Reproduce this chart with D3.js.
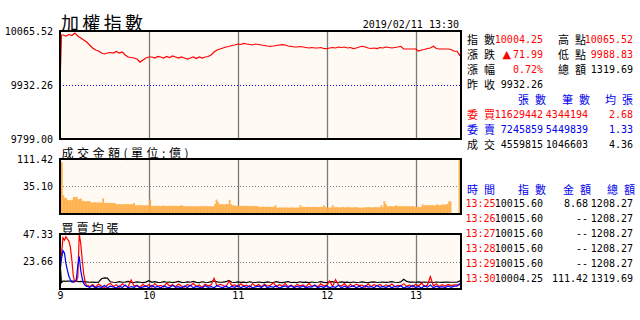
<!DOCTYPE html>
<html>
<head>
<meta charset="utf-8">
<script src="https://cdn.jsdelivr.net/npm/d3@7"></script>
<style>
body { margin: 0; background: #fff; }
svg { display: block; }
</style>
</head>
<body>
<script>
// minutes after 09:00, index closes
var prevClose = 9932.26;
var idxRange = [9799.00, 10065.52];
var idxTicks = [9799.00, 9932.26, 10065.52];
var idxMinutes = [0, 1].concat(d3.range(2, 271, 2));
var idxValues = [
  9932.26, 10055.6,
  10055.6, 10053.2, 10056.8, 10054.4, 10060.2, 10053.2, 10048.2, 10043.3, 10038.4, 10031.0,
  10023.6, 10018.6, 10016.2, 10011.2, 10008.8, 10011.2, 10012.5, 10011.2, 10014.9, 10011.2,
  10013.7, 10006.3, 10001.4, 10000.1, 9998.9, 9996.4, 9988.8, 9994.0, 9998.9, 10001.4,
  10001.4, 9998.9, 10002.6, 10001.4, 9998.9, 10002.6, 10000.1, 10003.8, 10001.4, 9998.9,
  10001.4, 9998.9, 9996.4, 9998.9, 10001.4, 9997.6, 10001.4, 9998.9, 10001.4, 10002.6,
  10006.3, 10013.7, 10018.6, 10021.1, 10023.6, 10026.0, 10027.3, 10029.7, 10031.0, 10033.4,
  10032.2, 10034.7, 10033.4, 10032.2, 10031.0, 10033.4, 10032.2, 10031.0, 10029.7, 10028.5,
  10027.8, 10028.5, 10029.8, 10031.0, 10031.7, 10031.0, 10028.5, 10027.8, 10026.0, 10026.0,
  10027.3, 10026.0, 10024.8, 10023.6, 10024.8, 10023.6, 10023.6, 10024.8, 10022.3, 10021.8,
  10023.6, 10024.8, 10023.6, 10026.0, 10024.8, 10026.0, 10023.6, 10024.8, 10022.3, 10023.6,
  10026.0, 10027.8, 10026.0, 10023.6, 10022.3, 10023.6, 10022.3, 10024.8, 10023.6, 10026.0,
  10024.8, 10023.6, 10024.8, 10026.0, 10027.8, 10021.1, 10021.1, 10021.1, 10021.1, 10021.1,
  10016.2, 10018.6, 10019.9, 10022.3, 10023.6, 10027.8, 10022.3, 10021.1, 10021.1, 10021.1,
  10021.1, 10019.9, 10015.6, 10015.6, 10004.25
];

// traded amount per minute (億), 09:00 .. 13:30
var volRange = [0, 111.42];
var volTicks = [35.10, 111.42];
var volValues = [
  101.0, 18.7, 14.5, 14.0,
  11.2, 10.8, 11.5, 11.0,
  16.0, 15.5, 16.2,
  13.0, 12.5, 13.5,
  9.8, 10.2, 9.5, 9.8, 10.0, 9.6,
  8.3, 8.0, 8.5, 8.3, 8.1, 8.4, 8.2, 8.0,
  13.6,
  7.7, 7.5, 7.9, 7.6, 7.8, 7.4, 7.7, 7.5,
  6.3, 6.0, 6.5, 6.2, 6.4, 6.1, 6.3, 6.6, 6.2, 6.0, 6.4, 6.3,
  7.7,
  5.2, 5.0, 5.4, 5.1, 5.3, 5.2, 5.0, 5.3, 5.1, 5.2,
  12.2,
  4.6, 4.4, 4.8, 4.5, 4.7, 4.6, 4.3, 4.6, 4.9, 4.5, 4.6, 4.4, 4.7, 4.6, 4.5, 4.8, 4.6, 4.4, 4.6, 4.5,
  5.2, 5.0,
  4.3, 4.1, 4.4, 4.2, 4.3, 4.5, 4.2, 4.3, 4.1, 4.4, 4.3, 4.2, 4.6, 4.3, 4.2, 4.4, 4.3, 4.1, 4.3, 4.4, 4.2,
  6.5, 12.0, 9.0,
  6.3, 6.0, 6.4, 6.2, 6.1, 6.5, 6.3,
  11.2, 6.0,
  5.2, 5.0, 4.8, 4.6, 4.7, 4.5, 4.6, 4.4, 4.7, 4.6, 4.5, 4.3, 4.6, 4.5, 4.4, 4.6, 4.2, 4.4,
  3.7, 3.6, 3.8, 4.0, 3.6, 3.7, 3.9, 3.6, 3.7, 3.5, 3.8,
  5.2,
  3.1, 3.0, 3.2, 3.1, 3.3, 3.0, 3.1, 3.2, 3.0, 3.1, 3.3, 3.1, 3.0, 3.2, 3.1, 3.0,
  5.2,
  3.6, 3.7, 3.5, 3.8, 3.6, 3.7, 3.6, 3.5, 3.8, 3.6, 3.7, 3.6, 3.5, 3.7, 3.6,
  5.2,
  3.8, 3.0, 3.1, 3.0, 3.2,
  5.2,
  3.4, 3.3, 3.5, 3.2, 3.4, 3.3, 3.6, 3.2, 3.4, 3.3, 3.5, 3.3, 3.2, 3.4, 3.3, 3.5,
  3.3, 3.0, 3.0, 3.1, 3.0, 3.4, 3.3, 3.5, 3.4, 3.2, 3.4, 3.3, 3.5, 3.4, 3.3, 3.4,
  5.2, 3.4, 9.8, 6.5,
  4.3, 4.2, 4.4, 4.3, 4.1, 4.3,
  5.2,
  4.3, 4.4, 4.2, 4.3, 4.5, 4.3, 4.2, 4.4, 4.3, 4.1, 4.3, 4.2,
  3.7, 3.6, 3.8, 3.6, 3.7,
  6.2,
  5.2, 5.0, 5.3, 5.1, 5.2, 5.4, 5.2, 5.0, 5.3, 6.2, 5.2, 5.1,
  5.9, 6.0, 5.8, 6.2, 6.3,
  9.8, 9.5,
  0, 0, 0, 0, 0,
  111.42
];

// average lot sizes: buy (red), sell (blue), deal (black)
var avgRange = [0, 47.33];
var avgTicks = [23.66, 47.33];
var avgMinutes = d3.range(0, 20).concat(d3.range(20, 271, 2));
var avgBuy = [
  20, 30, 44, 42, 45, 43, 41, 36, 25, 11, 6, 7, 10, 47.3, 39, 25, 13, 6, 2.5, 3,
  2.0, 3.8, 1.5, 4.2, 2.6, 1.2, 3.5, 5.0, 2.1, 3.6,
  1.4, 4.5, 2.8, 1.9, 7.8, 2.5, 3.3, 1.6, 4.0, 2.2,
  3.8, 1.5, 4.6, 2.4, 3.1, 1.8, 5.2, 2.6, 3.7, 1.9,
  4.3, 2.5, 1.7, 3.9, 2.8, 4.8, 2.2, 3.4, 1.6, 4.1,
  2.7, 3.5, 9.2, 2.4, 4.0, 3.2, 1.8, 6.8, 2.9, 3.6,
  1.9, 4.4, 2.7, 3.3, 1.5, 4.7, 2.3, 3.8, 2.0, 4.2,
  2.6, 3.2, 5.4, 1.8, 3.9, 2.5, 4.6, 2.1, 3.3, 1.7,
  4.0, 2.8, 3.5, 1.9, 4.8, 2.3, 3.6, 2.0, 4.4, 2.7,
  3.1, 6.9, 2.2, 8.1, 3.4, 2.6, 4.7, 1.8, 3.8, 2.4,
  4.2, 2.9, 3.3, 1.6, 4.5, 2.2, 3.7, 2.8, 4.0, 1.9,
  3.6, 2.5, 4.3, 2.0, 3.2, 2.7, 4.6, 2.3, 3.5, 1.8,
  4.1, 2.6, 5.0, 2.2, 3.4, 10.6, 2.8, 4.4, 2.1, 3.7,
  2.5, 4.0, 2.9, 3.5, 3.5, 3.5
];
var avgSell = [
  14, 26, 33, 31, 22, 16, 11, 8, 6, 6, 7, 8, 20, 28, 16, 9, 5, 3, 2.5, 2,
  1.5, 2.8, 0.9, 2.2, 1.3, 3.1, 1.0, 2.4, 1.7, 0.8,
  2.6, 1.2, 3.4, 1.0, 2.1, 1.5, 2.9, 0.9, 1.8, 2.5,
  1.1, 3.0, 1.4, 2.3, 0.8, 2.7, 1.6, 1.1, 3.2, 1.4,
  2.0, 0.9, 2.6, 1.3, 3.3, 1.0, 2.2, 1.6, 0.8, 2.9,
  1.4, 2.1, 1.0, 3.0, 1.7, 1.2, 2.6, 0.9, 2.3, 1.5,
  3.1, 1.0, 2.4, 1.3, 2.8, 0.9, 1.9, 2.5, 1.2, 3.4,
  1.1, 2.2, 1.5, 2.9, 0.8, 1.8, 2.6, 1.2, 3.0, 1.0,
  2.3, 1.4, 2.7, 0.9, 2.0, 1.6, 3.2, 1.1, 2.4, 1.3,
  2.8, 1.0, 2.1, 1.5, 3.3, 0.9, 2.5, 1.2, 1.9, 2.7,
  1.1, 2.4, 0.8, 2.9, 1.6, 2.1, 1.0, 3.1, 1.4, 2.2,
  1.2, 2.6, 1.0, 2.3, 1.7, 2.8, 0.9, 2.0, 1.5, 3.0,
  1.3, 2.2, 0.9, 2.7, 1.6, 3.5, 1.1, 2.4, 1.4, 2.0,
  1.2, 2.6, 1.5, 2.5, 2.5, 4.8
];
var avgDeal = [
  23, 5.5, 6.8, 6.8, 6.6, 6.9, 6.8, 6.7, 6.9, 6.8, 6.6, 6.8, 6.5, 6.4, 6.5, 6.3, 6.2, 6.3, 6.1, 6.0,
  5.8, 5.9, 5.7, 5.8, 8.8, 9.6, 9.4, 6.2, 5.8, 5.6,
  6.4, 5.8, 5.9, 6.5, 5.7, 5.6, 6.1, 5.8, 5.5, 5.9,
  7.2, 5.8, 6.4, 5.7, 5.6, 6.3, 5.8, 6.0, 5.5, 5.9,
  6.5, 5.7, 5.6, 6.1, 5.8, 6.6, 5.7, 5.5, 6.2, 5.8,
  5.6, 6.4, 7.0, 6.2, 5.8, 6.0, 6.3, 7.4, 5.8, 5.6,
  6.1, 5.7, 5.9, 5.5, 6.2, 5.8, 5.6, 6.0, 5.7, 5.5,
  6.1, 5.8, 5.6, 6.3, 5.7, 5.5, 5.9, 6.4, 5.6, 5.8,
  5.5, 6.2, 5.7, 5.9, 5.5, 6.0, 5.6, 5.8, 6.3, 5.7,
  5.5, 6.1, 6.4, 5.6, 5.8, 6.2, 5.7, 5.9, 5.5, 6.0,
  5.6, 5.8, 6.1, 5.7, 5.5, 5.9, 6.2, 5.6, 5.8, 6.0,
  5.7, 5.9, 6.4, 5.8, 5.6, 6.1, 8.4, 6.5, 6.0, 5.9,
  5.8, 6.2, 5.7, 6.0, 5.8, 5.9, 5.6, 6.0, 5.8, 5.7,
  5.9, 6.0, 5.8, 5.8, 5.8, 7.0
];

var hourTicks = [0, 60, 120, 180, 240];
var hourLabels = ["9", "10", "11", "12", "13"];

// quote board text
var titleText = "加權指數";
var stampText = "2019/02/11 13:30";
var volTitle = "成交金額(單位:億)";
var avgTitle = "買賣均張";
var quoteLabelsL = ["指數", "漲跌", "漲幅", "昨收"];
var quoteValuesL = ["10004.25", "71.99", "0.72%", "9932.26"];
var quoteLabelsR = ["高點", "低點", "總額"];
var quoteValuesR = ["10065.52", "9988.83", "1319.69"];
var bookHeader = ["張數", "筆數", "均張"];
var bookLabels = ["委買", "委賣", "成交"];
var bookQty = ["11629442", "7245859", "4559815"];
var bookCnt = ["4344194", "5449839", "1046603"];
var bookAvg = ["2.68", "1.33", "4.36"];
var tickHeader = ["時間", "指數", "金額", "總額"];
var tickTimes = ["13:25", "13:26", "13:27", "13:28", "13:29", "13:30"];
var tickIndex = ["10015.60", "10015.60", "10015.60", "10015.60", "10015.60", "10004.25"];
var tickAmount = ["8.68", "--", "--", "--", "--", "111.42"];
var tickTotal = ["1208.27", "1208.27", "1208.27", "1208.27", "1208.27", "1319.69"];

var RED = "#ff0000", BLUE = "#0000ee", BLACK = "#000";
var CJK = '"Noto Sans CJK TC", sans-serif';
var MONO = '"DejaVu Sans Mono", monospace';

var svg = d3.select("body").append("svg")
  .attr("width", 640)
  .attr("height", 320);

var x = d3.scaleLinear().domain([0, 270]).range([60, 460]);
var xBar = d3.scaleBand().domain(d3.range(volValues.length)).range([61, 460]);
var left = 60, plotW = 401;

var yIdx = d3.scaleLinear().domain(idxRange).range([139, 31]);
var yVol = d3.scalePow().exponent(0.6).domain(volRange).range([214, 159]);
var yAvg = d3.scaleLinear().domain(avgRange).range([289, 234]);

function frame(id, top, bottom) {
  svg.append("clipPath").attr("id", id)
    .append("rect")
    .attr("x", left).attr("y", top)
    .attr("width", plotW).attr("height", bottom - top);
  svg.append("rect")
    .attr("x", left).attr("y", top)
    .attr("width", plotW).attr("height", bottom - top)
    .attr("fill", "#fffaf3");
  svg.append("g").selectAll("line")
    .data(hourTicks.slice(1))
    .enter().append("line")
    .attr("x1", function(d) { return Math.round(x(d)) + 0.5; })
    .attr("x2", function(d) { return Math.round(x(d)) + 0.5; })
    .attr("y1", top).attr("y2", bottom)
    .attr("stroke", "#7a7a7a")
    .attr("stroke-width", 1.3);
}

function hline(y, color) {
  svg.append("line")
    .attr("x1", left).attr("x2", left + plotW)
    .attr("y1", Math.round(y) + 0.5).attr("y2", Math.round(y) + 0.5)
    .attr("stroke", color)
    .attr("stroke-dasharray", "1,2");
}

function border(top, bottom) {
  svg.append("rect")
    .attr("x", left).attr("y", top)
    .attr("width", plotW).attr("height", bottom - top)
    .attr("fill", "none")
    .attr("stroke", "#000")
    .attr("stroke-width", 2);
}

function leftAxis(scale, ticks) {
  svg.append("g")
    .attr("transform", "translate(" + left + ",0)")
    .call(d3.axisLeft(scale).tickValues(ticks).tickFormat(d3.format(".2f")).tickSize(0).tickPadding(7))
    .call(function(g) { g.select(".domain").remove(); })
    .attr("font-family", MONO)
    .attr("font-size", 10)
    .attr("color", "#000");
}

function cjk(x0, y0, s, color, anchor, len, size) {
  var t = svg.append("text")
    .attr("x", x0).attr("y", y0)
    .attr("dominant-baseline", "central")
    .attr("text-anchor", anchor || "start")
    .attr("fill", color)
    .attr("font-family", CJK)
    .attr("font-size", size || 11)
    .text(s);
  if (len) t.attr("textLength", len).attr("lengthAdjust", "spacing");
  return t;
}

function num(x0, y0, s, color, anchor) {
  return svg.append("text")
    .attr("x", x0).attr("y", y0)
    .attr("dominant-baseline", "central")
    .attr("text-anchor", anchor || "end")
    .attr("fill", color)
    .attr("font-family", MONO)
    .attr("font-size", 10)
    .text(s);
}

// ---- index panel
frame("clipIdx", 31, 139);
hline(yIdx(prevClose), "#0000ff");
var idxData = idxMinutes.map(function(m, i) { return {m: m, v: idxValues[i]}; });
svg.append("path")
  .datum(idxData)
  .attr("clip-path", "url(#clipIdx)")
  .attr("fill", "none")
  .attr("stroke", RED)
  .attr("stroke-width", 1.2)
  .attr("d", d3.line().x(function(d) { return x(d.m); }).y(function(d) { return yIdx(d.v); }));
border(31, 139);
leftAxis(yIdx, idxTicks);

// ---- amount panel
frame("clipVol", 159, 214);
hline(yVol(volTicks[0]), "#808080");
svg.append("g")
  .attr("clip-path", "url(#clipVol)")
  .selectAll("rect")
  .data(volValues)
  .enter().append("rect")
  .attr("x", function(d, i) { return xBar(i); })
  .attr("width", xBar.bandwidth() + 0.3)
  .attr("y", function(d) { return yVol(d); })
  .attr("height", function(d) { return yVol(0) - yVol(d); })
  .attr("fill", "#ffb24f");
border(159, 214);
leftAxis(yVol, volTicks);

// ---- average lot panel
frame("clipAvg", 234, 289);
hline(yAvg(avgTicks[0]), "#808080");
var avgLine = d3.line().x(function(d) { return x(d.m); }).y(function(d) { return yAvg(d.v); });
[[avgDeal, BLACK], [avgBuy, RED], [avgSell, "#0000ff"]].forEach(function(s) {
  svg.append("path")
    .datum(avgMinutes.map(function(m, i) { return {m: m, v: s[0][i]}; }))
    .attr("clip-path", "url(#clipAvg)")
    .attr("fill", "none")
    .attr("stroke", s[1])
    .attr("stroke-width", 1.2)
    .attr("d", avgLine);
});
border(234, 289);
leftAxis(yAvg, avgTicks);

svg.append("g")
  .attr("transform", "translate(0,289)")
  .call(d3.axisBottom(x).tickValues(hourTicks).tickFormat(function(d, i) { return hourLabels[i]; }).tickSize(0).tickPadding(3))
  .call(function(g) { g.select(".domain").remove(); })
  .attr("font-family", MONO)
  .attr("font-size", 10)
  .attr("color", "#000");

// ---- titles
cjk(61, 22, titleText, BLACK, "start", 82, 18);
num(459, 24, stampText, BLACK, "end");
cjk(61.5, 152, volTitle, BLACK, "start", 127, 12);
cjk(61.5, 227, avgTitle, BLACK, "start", 57, 12);

// ---- quote board
var rowY = [39, 54, 69, 84];
quoteLabelsL.forEach(function(s, i) {
  cjk(467, rowY[i], s, BLACK, "start", 28);
});
num(543, rowY[0], quoteValuesL[0], RED);
num(543, rowY[1], quoteValuesL[1], RED);
svg.append("text")
  .attr("x", 511).attr("y", rowY[1])
  .attr("dominant-baseline", "central")
  .attr("text-anchor", "end")
  .attr("fill", RED)
  .attr("font-family", '"DejaVu Sans", sans-serif')
  .attr("font-size", 11)
  .text("▲");
num(543, rowY[2], quoteValuesL[2], RED);
num(543, rowY[3], quoteValuesL[3], BLACK);

quoteLabelsR.forEach(function(s, i) {
  cjk(558, rowY[i], s, BLACK, "start", 28);
});
num(633, rowY[0], quoteValuesR[0], RED);
num(633, rowY[1], quoteValuesR[1], RED);
num(633, rowY[2], quoteValuesR[2], BLACK);

var bookHeadX = [546, 590, 633];
bookHeader.forEach(function(s, i) {
  cjk(bookHeadX[i], 99, s, BLUE, "end", 28);
});
var bookColors = [RED, BLUE, BLACK];
bookLabels.forEach(function(s, i) {
  var yy = 114 + i * 15;
  cjk(467, yy, s, bookColors[i], "start", 28);
  num(543, yy, bookQty[i], bookColors[i]);
  num(588, yy, bookCnt[i], bookColors[i]);
  num(633, yy, bookAvg[i], bookColors[i]);
});

// ---- last ticks table
var tickHeadX = [467, 546, 591, 635];
tickHeader.forEach(function(s, i) {
  cjk(tickHeadX[i], 189, s, BLUE, i === 0 ? "start" : "end", 28);
});
tickTimes.forEach(function(s, i) {
  var yy = 203.5 + i * 15;
  num(465.5, yy, s, RED, "start");
  num(543, yy, tickIndex[i], BLACK);
  num(588, yy, tickAmount[i], BLACK);
  num(633, yy, tickTotal[i], BLACK);
});
</script>
</body>
</html>
